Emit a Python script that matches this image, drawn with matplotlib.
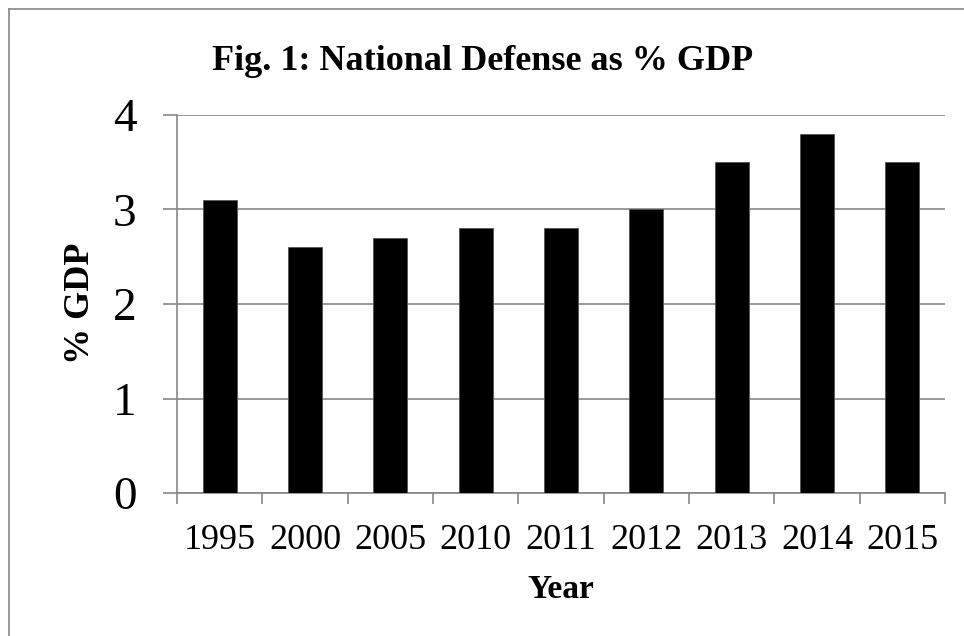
import matplotlib
matplotlib.use("Agg")
import matplotlib.pyplot as plt
from matplotlib.lines import Line2D
import numpy as np

# data
years = ["1995", "2000", "2005", "2010", "2011", "2012", "2013", "2014", "2015"]
pct_gdp = [3.1, 2.6, 2.7, 2.8, 2.8, 3.0, 3.5, 3.8, 3.5]
y_ticks = [0, 1, 2, 3, 4]

plt.rcParams['font.family'] = ['Liberation Serif', 'DejaVu Serif']
GRAY = "#878787"

fig = plt.figure(figsize=(9.64, 6.36), dpi=100)
ax = fig.add_axes([0.1836, 0.2248, 0.7967, 0.5944])

x = np.arange(len(years))
ax.bar(x, pct_gdp, width=0.4, color="black", edgecolor="#555555", linewidth=0.6, zorder=3)

ax.set_xlim(-0.5, len(years) - 0.5)
ax.set_ylim(0, 4)

# horizontal gridlines
ax.set_yticks(y_ticks)
ax.set_yticklabels([str(v) for v in y_ticks], fontsize=34)
ax.yaxis.grid(True, color=GRAY, linewidth=1.2, zorder=0)
ax.tick_params(axis='y', length=10, width=1.2, color=GRAY, pad=19)

# category labels at centers, tick marks at the boundaries
ax.set_xticks(np.arange(-0.5, len(years)), [""] * (len(years) + 1))
ax.set_xticks(x, years, minor=True)
ax.tick_params(axis='x', which='major', length=8, width=1.2, color=GRAY)
ax.tick_params(axis='x', which='minor', length=0, labelsize=26, pad=22)

for side in ["top", "right"]:
    ax.spines[side].set_visible(False)
for side in ["left", "bottom"]:
    ax.spines[side].set_color(GRAY)
    ax.spines[side].set_linewidth(1.2)

fig.text(0.5005, 1 - 70 / 636, "Fig. 1: National Defense as % GDP",
         ha="center", va="baseline", fontsize=26, fontweight="bold")
fig.text(0.083, 1 - 303 / 636, "% GDP", rotation=90, ha="center", va="center",
         fontsize=26, fontweight="bold")
fig.text(0.582, 1 - 598 / 636, "Year", ha="center", va="baseline",
         fontsize=24, fontweight="bold")

# outer chart border (only left and top edges are visible in the crop)
fig.add_artist(Line2D([9 / 964, 9 / 964], [0, 1 - 9 / 636], transform=fig.transFigure,
                      color=GRAY, linewidth=1.2))
fig.add_artist(Line2D([9 / 964, 1], [1 - 9 / 636, 1 - 9 / 636], transform=fig.transFigure,
                      color=GRAY, linewidth=1.2))

fig.savefig("out.png", dpi=100)
